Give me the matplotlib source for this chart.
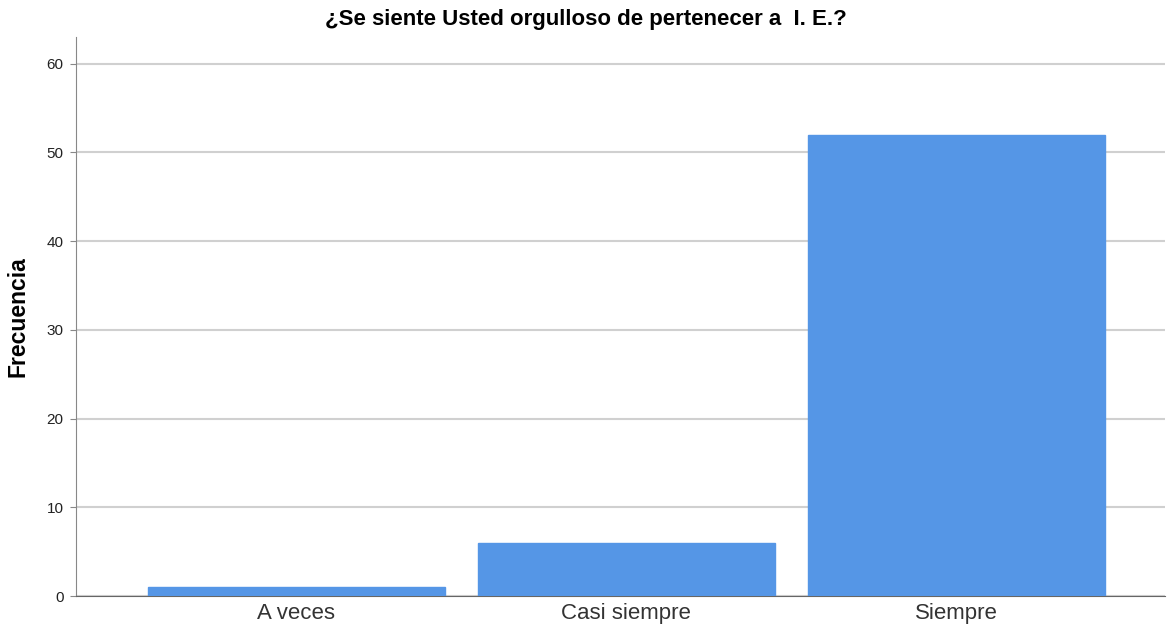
import matplotlib
matplotlib.use("Agg")
import matplotlib.pyplot as plt

categories = ["A veces", "Casi siempre", "Siempre"]
frecuencia = [1, 6, 52]
yticks = [0, 10, 20, 30, 40, 50, 60]

plt.rcParams['font.family'] = ['Liberation Sans', 'DejaVu Sans']

fig = plt.figure(figsize=(11.67, 6.3), dpi=100)
ax = fig.add_axes([76/1167, 34/630, 1089/1167, 559/630])

x = range(len(categories))
ax.bar(x, frecuencia, width=0.9, color="#5596E6", edgecolor="#5596E6", zorder=3)

ax.set_xlim(-0.667, 2.633)
ax.set_ylim(0, 63)
ax.set_yticks(yticks)
ax.set_xticks(list(x))
ax.set_xticklabels(categories, fontsize=16, color="#333333")
ax.tick_params(axis="y", labelsize=11, length=4, pad=5, color="#888888", labelcolor="#222222")
ax.tick_params(axis="x", length=0, pad=5)
ax.yaxis.grid(True, color="#D0D0D0", linewidth=1.5, zorder=0)

for s in ["top", "right"]:
    ax.spines[s].set_visible(False)
ax.spines["left"].set_color("#888888")
ax.spines["bottom"].set_color("#666666")

ax.set_ylabel("Frecuencia", fontsize=16.5, fontweight="bold", labelpad=12)
fig.text(586/1167, 1 - 20/630, "¿Se siente Usted orgulloso de pertenecer a  I. E.?",
         ha="center", va="center", fontsize=16, fontweight="bold")

fig.savefig("out.png", dpi=100)
